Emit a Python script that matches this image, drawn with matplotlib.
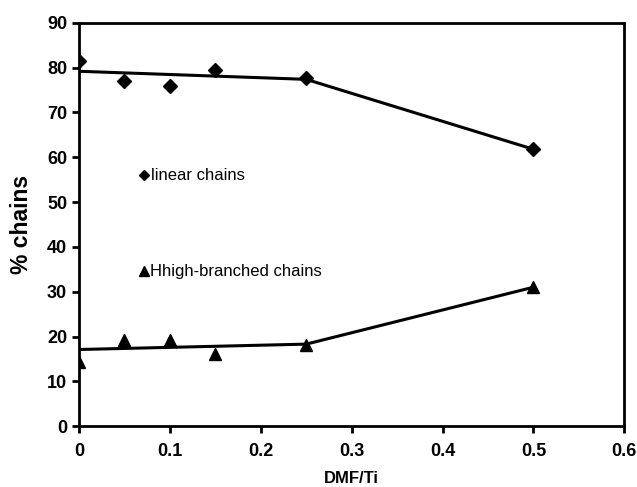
import matplotlib
matplotlib.use("Agg")
import matplotlib.pyplot as plt

# measured points
dmf = [0, 0.05, 0.1, 0.15, 0.25, 0.5]
linear = [81.5, 77.0, 76.0, 79.5, 77.6, 61.8]
branched = [14.3, 19.3, 19.2, 16.2, 18.0, 31.0]

# trend lines
fit_x = [0, 0.25, 0.5]
linear_fit = [79.2, 77.4, 61.8]
branched_fit = [17.1, 18.3, 31.0]

plt.rcParams["font.family"] = ["Liberation Sans", "DejaVu Sans"]

fig = plt.figure(figsize=(6.37, 4.87), dpi=100)
ax = fig.add_axes([0.124, 0.125, 0.856, 0.828])

ax.plot(fit_x, linear_fit, color="black", lw=2.2, zorder=2)
ax.plot(fit_x, branched_fit, color="black", lw=2.2, zorder=2)
ax.plot(dmf, linear, ls="none", marker="D", ms=7, color="black", zorder=3)
ax.plot(dmf, branched, ls="none", marker="^", ms=9, color="black", zorder=3)

# in-plot labels
ax.plot([0.072], [56], marker="D", ms=5.5, color="black", ls="none")
ax.text(0.079, 56, "linear chains", fontsize=12, va="center", ha="left")
ax.plot([0.071], [34.6], marker="^", ms=7, color="black", ls="none")
ax.text(0.078, 34.6, "Hhigh-branched chains", fontsize=12, va="center", ha="left")

ax.set_xlim(0, 0.6)
ax.set_ylim(0, 90)
ax.set_xticks([0, 0.1, 0.2, 0.3, 0.4, 0.5, 0.6])
ax.set_xticklabels(["0", "0.1", "0.2", "0.3", "0.4", "0.5", "0.6"])
ax.set_yticks(range(0, 91, 10))

for s in ax.spines.values():
    s.set_linewidth(2)
ax.tick_params(direction="out", length=5, width=2, labelsize=13)
for lab in ax.get_xticklabels() + ax.get_yticklabels():
    lab.set_fontweight("bold")
ax.tick_params(axis="x", pad=7)

ax.set_xlabel("DMF/Ti", fontsize=12, fontweight="bold", labelpad=8)
ax.set_ylabel("% chains", fontsize=16.5, fontweight="bold", labelpad=10)

fig.savefig("out.png", dpi=100)
